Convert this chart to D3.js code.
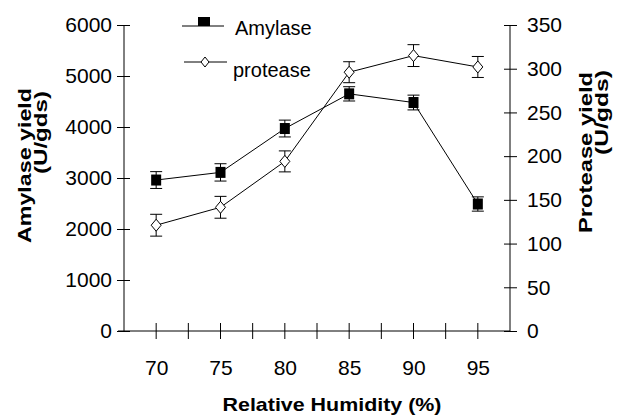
<!DOCTYPE html>
<html><head><meta charset="utf-8">
<script src="https://cdn.jsdelivr.net/npm/d3@7"></script>
<style>html,body{margin:0;padding:0;background:#fff;}svg{display:block;font-family:"Liberation Sans",Arial,sans-serif;}</style>
</head><body>
<svg id="c" width="622" height="417"></svg>
<script>
const categories = ["70", "75", "80", "85", "90", "95"];
const amylase = [2960, 3110, 3970, 4650, 4480, 2490];
const amylaseErr = [165, 170, 165, 140, 145, 140];
const protease = [121, 141.5, 194, 296, 315, 302];
const proteaseErr = [12.5, 12.5, 12, 12, 12.5, 12];
const leftTicks = [0, 1000, 2000, 3000, 4000, 5000, 6000];
const rightTicks = [0, 50, 100, 150, 200, 250, 300, 350];
const xTitle = "Relative Humidity (%)";
const leftTitle = ["Amylase  yield", "(U/gds)"];
const rightTitle = ["Protease  yield", "(U/gds)"];
const legendLabels = ["Amylase", "protease"];

const svg = d3.select("#c");
const L = 124, R = 510, T = 25, B = 331;
const x = d3.scalePoint().domain(categories).range([L, R]).padding(0.5);
const yL = d3.scaleLinear().domain([0, 6000]).range([B, T]);
const yR = d3.scaleLinear().domain([0, 350]).range([B, T]);
const step = x.step();

// Left axis
const gL = svg.append("g").attr("transform", `translate(${L},0)`)
  .call(d3.axisLeft(yL).tickValues(leftTicks).tickSize(7).tickPadding(5).tickFormat(d3.format("d")));
gL.selectAll(".tick line").attr("x1", 6);
// Right axis
const gR = svg.append("g").attr("transform", `translate(${R},0)`)
  .call(d3.axisRight(yR).tickValues(rightTicks).tickSize(7).tickPadding(10).tickFormat(d3.format("d")));
gR.selectAll(".tick line").attr("x1", -6);
// Bottom axis
const gB = svg.append("g").attr("transform", `translate(0,${B})`)
  .call(d3.axisBottom(x).tickSize(0).tickPadding(29));
const tickXs = [];
categories.forEach(c => { tickXs.push(x(c) - step / 2); tickXs.push(x(c)); });
tickXs.push(x(categories[categories.length - 1]) + step / 2);
gB.selectAll("line.xt").data(tickXs.slice(1, -1)).enter().append("line")
  .attr("class", "xt").attr("x1", d => d).attr("x2", d => d).attr("y1", -8).attr("y2", 8)
  .attr("stroke", "#000");
gB.select(".domain").attr("d", `M${L - 6},0H${R}`);

[gL, gR, gB].forEach(g => {
  g.selectAll("text").attr("font-size", 21).attr("fill", "#000").attr("font-family", '"Liberation Sans",Arial,sans-serif');
  g.selectAll(".domain").attr("stroke", "#000");
  g.selectAll(".tick line").attr("stroke", "#000");
});
gL.select(".domain").attr("d", `M0,${B}V${T}`);
gR.select(".domain").attr("d", `M0,${B}V${T}`);

// Lines
const lineP = d3.line().x((d, i) => x(categories[i])).y(d => yR(d));
const lineA = d3.line().x((d, i) => x(categories[i])).y(d => yL(d));
svg.append("path").attr("d", lineP(protease)).attr("fill", "none").attr("stroke", "#000").attr("stroke-width", 1);
svg.append("path").attr("d", lineA(amylase)).attr("fill", "none").attr("stroke", "#000").attr("stroke-width", 1);

// Error bars
function errBars(vals, errs, scale) {
  const g = svg.append("g").attr("stroke", "#000").attr("stroke-width", 1);
  vals.forEach((v, i) => {
    const cx = x(categories[i]);
    const y1 = scale(v + errs[i]), y2 = scale(v - errs[i]);
    g.append("line").attr("x1", cx).attr("x2", cx).attr("y1", y1).attr("y2", y2);
    g.append("line").attr("x1", cx - 6).attr("x2", cx + 6).attr("y1", y1).attr("y2", y1);
    g.append("line").attr("x1", cx - 6).attr("x2", cx + 6).attr("y1", y2).attr("y2", y2);
  });
}
errBars(amylase, amylaseErr, yL);
errBars(protease, proteaseErr, yR);

// Markers
svg.append("g").selectAll("rect").data(amylase).enter().append("rect")
  .attr("x", (d, i) => x(categories[i]) - 5).attr("y", d => yL(d) - 5.5)
  .attr("width", 10).attr("height", 11).attr("fill", "#000");
const diamond = (cx, cy, w, h) => `M${cx},${cy - h / 2}L${cx + w / 2},${cy}L${cx},${cy + h / 2}L${cx - w / 2},${cy}Z`;
svg.append("g").selectAll("path").data(protease).enter().append("path")
  .attr("d", (d, i) => diamond(x(categories[i]), yR(d), 10, 12))
  .attr("fill", "#fff").attr("stroke", "#000").attr("stroke-width", 1);

// Legend
const lg = svg.append("g");
lg.append("line").attr("x1", 182).attr("x2", 224).attr("y1", 26).attr("y2", 26).attr("stroke", "#000");
lg.append("rect").attr("x", 198).attr("y", 17).attr("width", 12).attr("height", 9).attr("fill", "#000");
lg.append("text").attr("x", 235).attr("y", 35).attr("font-size", 20).text(legendLabels[0]);
lg.append("line").attr("x1", 184).attr("x2", 227).attr("y1", 62).attr("y2", 62).attr("stroke", "#000");
lg.append("path").attr("d", diamond(205, 62, 8, 10)).attr("fill", "#fff").attr("stroke", "#000");
lg.append("text").attr("x", 233).attr("y", 77).attr("font-size", 20).text(legendLabels[1]);

// Axis titles
svg.append("text").attr("x", 222.5).attr("y", 411).attr("font-size", 19).attr("font-weight", "bold")
  .attr("textLength", 219).attr("lengthAdjust", "spacingAndGlyphs").text(xTitle);

const lt = svg.append("g").attr("font-weight", "bold").attr("font-size", 19).attr("text-anchor", "end");
lt.append("text").attr("transform", "translate(31,88) rotate(-90)")
  .attr("textLength", 155).attr("lengthAdjust", "spacingAndGlyphs").text(leftTitle[0]);
lt.append("text").attr("transform", "translate(47,91) rotate(-90)")
  .attr("textLength", 83).attr("lengthAdjust", "spacingAndGlyphs").text(leftTitle[1]);
const rt = svg.append("g").attr("font-weight", "bold").attr("font-size", 19).attr("text-anchor", "end");
rt.append("text").attr("transform", "translate(592,72) rotate(-90)")
  .attr("textLength", 161).attr("lengthAdjust", "spacingAndGlyphs").text(rightTitle[0]);
rt.append("text").attr("transform", "translate(608,70) rotate(-90)")
  .attr("textLength", 85).attr("lengthAdjust", "spacingAndGlyphs").text(rightTitle[1]);
</script>
</body></html>
